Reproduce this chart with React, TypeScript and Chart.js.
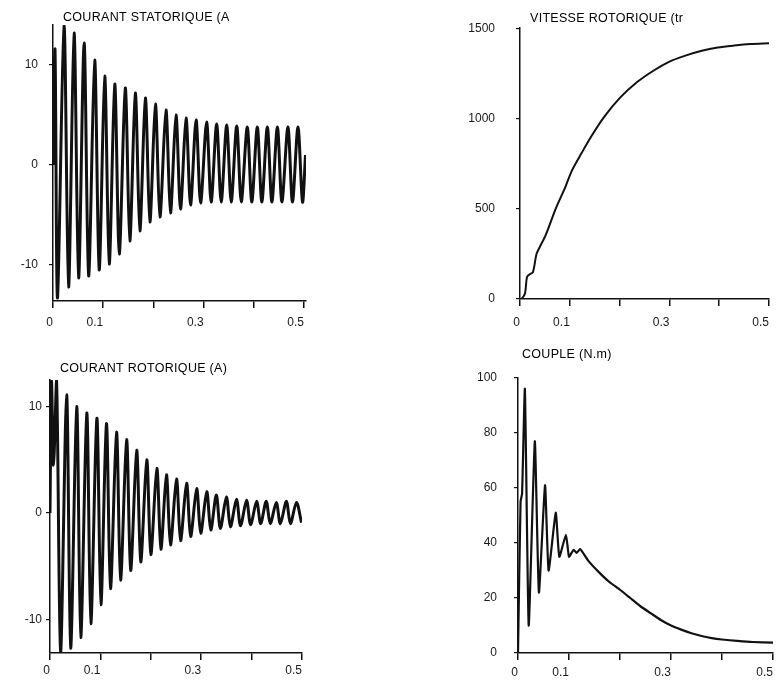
import React, { useEffect, useRef } from 'react';
import { Chart, registerables } from 'chart.js';

Chart.register(...registerables);

// ---------- data ----------
const xTickValues = [0, 0.1, 0.2, 0.3, 0.4, 0.5];
const xTickLabels = ['0', '0.1', '', '0.3', '', '0.5'];

// Courant statorique (A): successive extrema of the trace
const statorTimes = [0, 0.004, 0.009, 0.022, 0.031, 0.042, 0.051, 0.062, 0.071, 0.083, 0.092, 0.103, 0.112, 0.123, 0.132, 0.144, 0.153, 0.164, 0.173, 0.184, 0.193, 0.204, 0.213, 0.225, 0.234, 0.245, 0.254, 0.265, 0.274, 0.285, 0.294, 0.306, 0.315, 0.326, 0.335, 0.346, 0.355, 0.366, 0.375, 0.387, 0.396, 0.407, 0.416, 0.427, 0.436, 0.447, 0.456, 0.468, 0.477, 0.488, 0.497, 0.503];
const statorValues = [0, 11.5, -13.3, 14.0, -12.2, 13.2, -11.3, 12.2, -11.1, 10.5, -10.5, 8.9, -9.9, 8.1, -8.9, 7.7, -7.6, 7.2, -6.6, 6.7, -5.7, 6.1, -5.2, 5.5, -4.8, 5.0, -4.4, 4.7, -4.0, 4.5, -3.8, 4.3, -3.7, 4.1, -3.7, 4.0, -3.7, 3.9, -3.7, 3.8, -3.7, 3.8, -3.7, 3.8, -3.7, 3.8, -3.7, 3.8, -3.7, 3.8, -3.7, 1.0];
const statorYTicks = [-10, 0, 10];
const statorYLabels = ['-10', '0', '10'];

// Vitesse rotorique (tr/min)
const speedTimes = [0, 0.003, 0.010, 0.014, 0.019, 0.026, 0.033, 0.039, 0.052, 0.072, 0.091, 0.104, 0.124, 0.143, 0.169, 0.202, 0.234, 0.267, 0.299, 0.332, 0.365, 0.397, 0.430, 0.462, 0.500];
const speedValues = [0, 0, 31, 121, 136, 149, 248, 284, 357, 502, 620, 710, 810, 900, 1009, 1118, 1199, 1263, 1314, 1348, 1375, 1393, 1404, 1412, 1416];
const speedYTicks = [0, 500, 1000, 1500];
const speedYLabels = ['0', '500', '1000', '1500'];

// Courant rotorique (A): successive extrema of the trace
const rotorTimes = [0, 0.003, 0.007, 0.013, 0.021, 0.033, 0.041, 0.053, 0.061, 0.073, 0.081, 0.093, 0.101, 0.112, 0.120, 0.132, 0.140, 0.152, 0.160, 0.172, 0.180, 0.192, 0.200, 0.212, 0.220, 0.231, 0.239, 0.251, 0.259, 0.271, 0.279, 0.291, 0.299, 0.311, 0.319, 0.330, 0.338, 0.350, 0.358, 0.370, 0.378, 0.390, 0.398, 0.410, 0.418, 0.429, 0.437, 0.449, 0.457, 0.469, 0.477, 0.489, 0.499];
const rotorValues = [0, 12.4, 4.5, 12.5, -13.1, 11.1, -12.7, 10.0, -11.7, 9.4, -10.4, 8.9, -8.6, 8.4, -7.1, 7.6, -6.3, 6.9, -5.4, 5.9, -4.6, 5.0, -3.9, 4.2, -3.4, 3.6, -3.0, 3.2, -2.6, 2.8, -2.2, 2.3, -1.9, 2.0, -1.6, 1.7, -1.45, 1.5, -1.3, 1.3, -1.2, 1.2, -1.1, 1.1, -1.0, 1.1, -1.0, 1.0, -1.0, 1.1, -1.0, 1.0, -0.9];
const rotorYTicks = [-10, 0, 10];
const rotorYLabels = ['-10', '0', '10'];

// Couple (N.m)
const torqueTimes = [0, 0.005, 0.008, 0.0135, 0.021, 0.033, 0.041, 0.053, 0.060, 0.074, 0.081, 0.094, 0.100, 0.109, 0.115, 0.122, 0.138, 0.158, 0.178, 0.20, 0.22, 0.24, 0.26, 0.28, 0.30, 0.32, 0.34, 0.36, 0.38, 0.40, 0.43, 0.46, 0.50];
const torqueValues = [0, 55, 58, 96, 10, 77, 22, 61, 30, 51, 35, 43, 35, 37.5, 36.4, 37.8, 33.5, 29.5, 26, 23, 20, 17, 14.5, 12, 10, 8.5, 7.2, 6.2, 5.4, 4.9, 4.4, 4.0, 3.8];
const torqueYTicks = [0, 20, 40, 60, 80, 100];
const torqueYLabels = ['0', '20', '40', '60', '80', '100'];

// ---------- styling ----------
const INK = '#111111';
const TEXT = '#1a1a1a';
const FONT = '"Liberation Sans", Arial, sans-serif';

const panelTitle = {
  id: 'panelTitle',
  afterDraw(chart: any, _args: any, opts: any) {
    const { ctx, chartArea } = chart;
    ctx.save();
    ctx.font = `12.5px ${FONT}`;
    ctx.fillStyle = '#000';
    ctx.textAlign = 'left';
    ctx.textBaseline = 'middle';
    try { (ctx as any).letterSpacing = '0.3px'; } catch (e) { /* ignore */ }
    ctx.fillText(opts.text, chartArea.left + opts.dx, opts.y);
    ctx.restore();
  },
};

type Spec = {
  left: number; top: number; w: number; h: number;
  padding: { left: number; top: number; right: number; bottom: number };
  yAxisWidth: number; xAxisHeight: number;
  xMax: number; yMin: number; yMax: number;
  yTicks: number[]; yLabels: string[];
  xLabelPad: number; yLabelPad: number;
  title: string; titleDx: number; titleY: number;
  lineWidth: number; tension: number;
  times: number[]; values: number[];
};

const specs: Spec[] = [
  {
    left: 0, top: 0, w: 330, h: 343,
    padding: { left: 0, top: 25, right: 24, bottom: 8 },
    yAxisWidth: 53, xAxisHeight: 34,
    xMax: 0.504, yMin: -13.6, yMax: 14,
    yTicks: statorYTicks, yLabels: statorYLabels,
    xLabelPad: 7, yLabelPad: 11,
    title: 'COURANT STATORIQUE (A', titleDx: 10, titleY: 17.5,
    lineWidth: 3, tension: 0.3,
    times: statorTimes, values: statorValues,
  },
  {
    left: 440, top: 0, w: 338, h: 343,
    padding: { left: 0, top: 23, right: 2, bottom: 10 },
    yAxisWidth: 80, xAxisHeight: 34,
    xMax: 0.5, yMin: 0, yMax: 1500,
    yTicks: speedYTicks, yLabels: speedYLabels,
    xLabelPad: 9, yLabelPad: 21,
    title: 'VITESSE ROTORIQUE (tr', titleDx: 10, titleY: 19,
    lineWidth: 2, tension: 0.3,
    times: speedTimes, values: speedValues,
  },
  {
    left: 0, top: 343, w: 330, h: 343,
    padding: { left: 0, top: 37, right: 28, bottom: 3 },
    yAxisWidth: 50, xAxisHeight: 30,
    xMax: 0.5, yMin: -13.15, yMax: 12.5,
    yTicks: rotorYTicks, yLabels: rotorYLabels,
    xLabelPad: 3, yLabelPad: 4,
    title: 'COURANT ROTORIQUE (A)', titleDx: 10, titleY: 26,
    lineWidth: 3, tension: 0.3,
    times: rotorTimes, values: rotorValues,
  },
  {
    left: 440, top: 343, w: 338, h: 343,
    padding: { left: 0, top: 35, right: 4, bottom: 3 },
    yAxisWidth: 78, xAxisHeight: 30,
    xMax: 0.5, yMin: 0, yMax: 100,
    yTicks: torqueYTicks, yLabels: torqueYLabels,
    xLabelPad: 5, yLabelPad: 17,
    title: 'COUPLE (N.m)', titleDx: 4, titleY: 12,
    lineWidth: 2.2, tension: 0.15,
    times: torqueTimes, values: torqueValues,
  },
];

function buildConfig(s: Spec): any {
  return {
    type: 'line',
    data: {
      datasets: [{
        data: s.times.map((t, i) => ({ x: t, y: s.values[i] })),
        borderColor: INK,
        borderWidth: s.lineWidth,
        pointRadius: 0,
        tension: s.tension,
        fill: false,
      }],
    },
    options: {
      animation: false,
      responsive: false,
      devicePixelRatio: 1,
      events: [],
      layout: { padding: s.padding },
      plugins: {
        legend: { display: false },
        tooltip: { enabled: false },
        title: { display: false },
        panelTitle: { text: s.title, dx: s.titleDx, y: s.titleY },
      },
      scales: {
        x: {
          type: 'linear',
          min: 0,
          max: s.xMax,
          afterBuildTicks: (sc: any) => { sc.ticks = xTickValues.map((v) => ({ value: v })); },
          afterFit: (sc: any) => { sc.height = s.xAxisHeight; },
          grid: { drawOnChartArea: false, drawTicks: true, tickLength: 7, color: INK, lineWidth: 1.5 },
          border: { display: true, color: INK, width: 1.5 },
          ticks: {
            color: TEXT,
            font: { family: FONT, size: 12 },
            padding: s.xLabelPad,
            align: 'end',
            maxRotation: 0,
            autoSkip: false,
            callback: (_v: any, i: number) => xTickLabels[i],
          },
        },
        y: {
          type: 'linear',
          min: s.yMin,
          max: s.yMax,
          afterBuildTicks: (sc: any) => { sc.ticks = s.yTicks.map((v) => ({ value: v })); },
          afterFit: (sc: any) => { sc.width = s.yAxisWidth; },
          grid: { drawOnChartArea: false, drawTicks: true, tickLength: 4, color: INK, lineWidth: 1.2 },
          border: { display: true, color: INK, width: 1.5 },
          ticks: {
            color: TEXT,
            font: { family: FONT, size: 12 },
            padding: s.yLabelPad,
            autoSkip: false,
            callback: (_v: any, i: number) => s.yLabels[i],
          },
        },
      },
    },
    plugins: [panelTitle],
  };
}

function Panel({ spec }: { spec: Spec }) {
  const ref = useRef<HTMLCanvasElement | null>(null);
  useEffect(() => {
    if (!ref.current) return;
    const chart = new Chart(ref.current, buildConfig(spec));
    return () => chart.destroy();
  }, [spec]);
  return (
    <canvas
      ref={ref}
      width={spec.w}
      height={spec.h}
      style={{ position: 'absolute', left: spec.left, top: spec.top, width: spec.w, height: spec.h }}
    />
  );
}

export default function App() {
  return (
    <div
      style={{
        position: 'fixed', left: 0, top: 0, width: 778, height: 686,
        background: '#ffffff', overflow: 'hidden',
      }}
    >
      {specs.map((s, i) => <Panel key={i} spec={s} />)}
    </div>
  );
}
